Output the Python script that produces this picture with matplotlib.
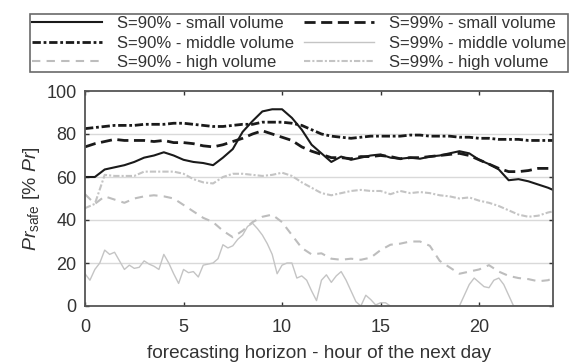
import numpy as np
import matplotlib
matplotlib.use("Agg")
import matplotlib.pyplot as plt

plt.rcParams['font.family'] = ['Liberation Sans', 'DejaVu Sans']
plt.rcParams['mathtext.fontset'] = 'custom'
plt.rcParams['mathtext.rm'] = 'Liberation Sans'
plt.rcParams['mathtext.it'] = 'Liberation Sans:italic'

# ---- data ----
hours = list(np.arange(0, 23.51, 0.5)) + [23.75]          # 49 points
hours_q = list(np.arange(0, 23.76, 0.25))                  # 96 points

s90_small = [60, 60, 63.5, 64.5, 65.5, 67, 69, 70, 71.5, 70, 68, 67, 66.5, 65.5, 69, 73,
             81, 86, 90.5, 91.5, 91.5, 87.5, 82, 75, 71, 67, 69.5, 68, 69, 70, 70.5, 69,
             68.5, 69, 68.5, 69.5, 70, 71, 72, 71, 68, 66, 63.5, 58.5, 59, 58, 56.5, 55, 54]
s99_small = [74, 75.5, 76.5, 77.5, 77, 77, 77, 76.5, 77, 76, 76, 75.5, 74.5, 74, 75, 76.5,
             78, 80, 81.5, 80, 78.5, 77, 74, 72, 70.5, 69, 69, 68.5, 69.5, 69.5, 70, 69.5,
             68.5, 69, 69, 69.5, 70, 70.5, 71, 70, 68, 66, 64, 62.5, 62.5, 63, 64, 64, 64]
s90_middle = [82.5, 83, 83.5, 84, 84, 84, 84.5, 84.5, 84.5, 85, 85, 84.5, 84, 83.5, 83.5, 84,
              84.5, 84.5, 85.5, 85.5, 85.5, 85, 84, 82, 80, 79, 78.5, 78, 78.5, 79, 79, 79,
              79, 79.5, 79.5, 79, 79, 79, 78.5, 78.5, 78, 78, 77.5, 77.5, 77.5, 77, 77, 77, 77]
s99_middle = [15, 12, 17, 20, 26, 24, 25, 21, 17, 19, 17.5, 18, 21, 19.5, 18.5, 17,
              24, 20, 15, 10.5, 17, 15.5, 16, 13.5, 19, 19.5, 20, 22, 28.5, 27, 28, 31,
              33, 37, 38.5, 36, 33, 29, 24, 15, 19, 20, 20, 13, 14, 12, 7, 2.5,
              12, 14.5, 11, 14, 16, 12, 7, 2, 0, 5, 3, 0.5, 1.5, 1.5, 0, 0,
              0, 0, 0, 0, 0, 0, 0, 0, 0, 0, 0, 0, 0, 5, 10, 13,
              11, 9, 8.5, 12, 13, 10, 5, 0, 0, 0, 0, 0, 0, 0, 0, 0]
s90_high = [52, 47.5, 51, 49.5, 48, 50, 51, 51.5, 51, 50, 47, 44, 41, 39, 35, 32,
            35, 39, 41.5, 42.5, 39, 33, 27, 24, 24.5, 22, 21.5, 22, 21.5, 22.5, 26, 28.5,
            29, 30, 30, 28, 21, 18, 15, 16, 17, 19, 16, 14, 13, 12.5, 11.5, 12, 13]
s99_high = [45.5, 47.5, 61, 60.5, 60.5, 60.5, 62.5, 62.5, 62.5, 62.5, 61.5, 59, 57.5, 57, 60, 61.5,
            61.5, 61, 60.5, 61, 62, 60.5, 57.5, 55, 52.5, 51.5, 52.5, 53.5, 54, 53.5, 53.5, 52,
            53.5, 52.5, 53, 52.5, 51.5, 51, 50, 50.5, 49, 48, 46.5, 44.5, 42.5, 41.5, 42, 43.5, 44]

labels = ["S=90% - small volume", "S=90% - middle volume", "S=90% - high volume",
          "S=99% - small volume", "S=99% - middle volume", "S=99% - high volume"]
xticks = [0, 5, 10, 15, 20]
yticks = [0, 20, 40, 60, 80, 100]

# ---- figure ----
fig = plt.figure(figsize=(5.76, 3.63), dpi=100)
ax = fig.add_axes([85/576, 1-306/363, (553-85)/576, (306-91)/363])

for y in [20, 40, 60, 80]:
    ax.axhline(y, color='#d9d9d9', lw=1.0, zorder=0)

h1, = ax.plot(hours, s90_small, color='#1a1a1a', lw=1.5, ls='-')
h2, = ax.plot(hours, s90_middle, color='#1a1a1a', lw=2.0, ls=(0, (3, 1, 1, 1)))
h3, = ax.plot(hours, s90_high, color='#bdbdbd', lw=1.5, ls=(0, (4, 3)))
h4, = ax.plot(hours, s99_small, color='#1a1a1a', lw=2.0, ls=(0, (4, 2)))
h5, = ax.plot(hours_q, s99_middle, color='#c4c4c4', lw=1.0, ls='-')
h6, = ax.plot(hours, s99_high, color='#c4c4c4', lw=1.5, ls=(0, (3, 1, 1, 1)))

ax.set_xlim(0, 23.75)
ax.set_ylim(0, 100)
ax.set_xticks(xticks)
ax.set_yticks(yticks)
ax.tick_params(direction='in', top=True, right=True, length=3, labelsize=13,
               colors='#333333', width=1)
ax.tick_params(axis='x', pad=9)
ax.tick_params(axis='y', pad=6)
for sp in ax.spines.values():
    sp.set_color('#555555')
    sp.set_linewidth(1.3)

ax.set_xlabel('forecasting horizon - hour of the next day', fontsize=13.7, color='#333333', labelpad=7)
ax.set_ylabel(r'$Pr_{\mathrm{safe}}$ [% $Pr$]', fontsize=14, color='#333333', labelpad=3)

leg = fig.legend([h1, h2, h3, h4, h5, h6], labels, ncol=2, loc='upper left',
                 bbox_to_anchor=(30/576, 1-14/363), bbox_transform=fig.transFigure,
                 borderaxespad=0, fontsize=12, handlelength=4.2, handletextpad=0.9,
                 columnspacing=0.6, labelspacing=0.27, fancybox=False, frameon=True,
                 borderpad=0.12)
leg.get_frame().set_edgecolor('#444444')
leg.get_frame().set_linewidth(1.2)
for t in leg.get_texts():
    t.set_color('#333333')

fig.savefig('out.png', dpi=100)
